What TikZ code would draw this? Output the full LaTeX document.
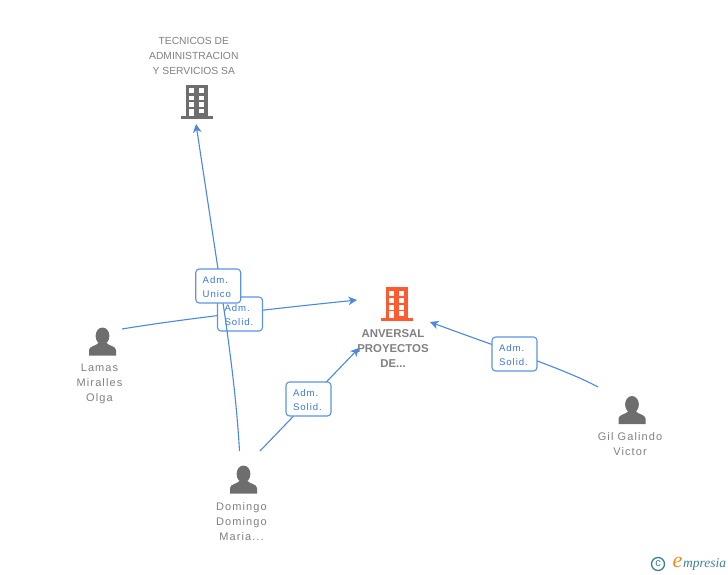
\documentclass[tikz,border=0pt]{standalone}
\usepackage{fontspec}
\setmainfont{Liberation Sans}
\newfontfamily\spaced[LetterSpace=10]{Liberation Sans}
\newfontfamily\logoserif{Liberation Serif}
\usetikzlibrary{arrows.meta}
\definecolor{linkblue}{HTML}{4A88E4}
\definecolor{boxblue}{HTML}{5A94E6}
\definecolor{labelblue}{HTML}{3A78D8}
\definecolor{icongray}{HTML}{6E6E6E}
\definecolor{textgray}{HTML}{808080}
\definecolor{iconorange}{HTML}{FF5A30}
\definecolor{logoteal}{HTML}{3F8098}
\definecolor{logoorange}{HTML}{F08A1E}
\newcommand\topfix{\rule{0pt}{9.5pt}}
\tikzset{
  x=1pt,y=-1pt,
  link/.style={draw=linkblue,line width=1.1pt},
  arrowlink/.style={link,-{Stealth[length=8.5pt,width=8.5pt,inset=2.5pt]}},
  rolebox/.style={draw=boxblue,line width=1.1pt,fill=white,rounded corners=3.5pt,
    minimum width=45pt,minimum height=34pt,inner sep=0pt,text=labelblue,align=left,text width=31pt,
    font=\spaced\fontsize{9.6}{14.5}\selectfont},
  person/.style={text=textgray,align=center,inner sep=0pt,font=\spaced\fontsize{11}{15}\selectfont},
  company/.style={text=textgray,align=center,inner sep=0pt,font=\fontsize{10.3}{15}\selectfont},
  maincompany/.style={text=textgray,align=center,inner sep=0pt,font=\bfseries\fontsize{11.4}{15}\selectfont},
  pics/building/.style={code={
    \fill[#1] (-11,-15.5) rectangle (11,15.5);
    \fill[#1] (-16,15.5) rectangle (16,18.5);
    \foreach \yy in {-12.2,-4.9,2}{
      \fill[white] (-7.3,\yy) rectangle (-2.3,\yy+4.9);
      \fill[white] (2.2,\yy) rectangle (7.2,\yy+4.9);
    }
    \fill[white] (2.2,8.4) rectangle (7.2,13);
    \fill[white] (-7.3,8.4) rectangle (-2.3,15.5);
  }},
  pics/bust/.style={code={
    \fill[icongray] (0,-5.5) ellipse (6.9 and 8.5);
    \fill[icongray] (-13.5,14) -- (-13.5,8.5) .. controls (-13.5,4.5) and (-6,4.5) .. (-3.5,1)
       -- (3.5,1) .. controls (6,4.5) and (13.5,4.5) .. (13.5,8.5) -- (13.5,14) -- cycle;
  }}
}
\begin{document}
\begin{tikzpicture}
\useasboundingbox (0,0) rectangle (728,575);
% icons
\pic at (196.5,100.5) {building=icongray};
\pic at (396.5,302.8) {building=iconorange};
\pic at (102.5,341.5) {bust};
\pic at (243.5,479.5) {bust};
\pic at (632,410) {bust};
% texts
\node[company] (tecnicos) at (193.8,56) {TECNICOS DE\\ADMINISTRACION\\Y SERVICIOS SA};
\node[maincompany] (anversal) at (393,348.5) {ANVERSAL\\PROYECTOS\\DE...};
\node[person] (lamas) at (99.5,384) {Lamas\\Miralles\\Olga};
\node[person] (domingo) at (241.5,522) {Domingo\\Domingo\\Maria...};
\node[person] (gil) at (630,444.5) {Gil Galindo\\Victor};
% connector ends
\coordinate (lamasEnd) at (122,329);
\coordinate (anvW) at (357,300);
\coordinate (domA) at (239.5,451);
\coordinate (domB) at (260,451);
\coordinate (anvS) at (359,348);
\coordinate (tecS) at (196,124);
\coordinate (gilEnd) at (598,387);
\coordinate (anvE) at (430,322);
% links, then the boxes that sit on them
\draw[arrowlink] (lamasEnd) .. controls (170,321) and (250,311) .. (anvW);
\node[rolebox] (solidB) at (240,314) {\topfix Adm.\\Solid.};
\draw[arrowlink] (domA) .. controls (236,390) and (227,329) .. (218,269) -- (tecS);
\node[rolebox] (unico) at (218.2,286) {\topfix Adm.\\Unico};
\draw[arrowlink] (domB) -- (anvS);
\node[rolebox] (solidC) at (308.5,399) {\topfix Adm.\\Solid.};
\draw[arrowlink] (gilEnd) .. controls (565,369) and (500,348) .. (anvE);
\node[rolebox] (solidD) at (514.5,354) {\topfix Adm.\\Solid.};
% logo
\node[draw=logoteal,line width=1.3pt,circle,minimum size=13pt,inner sep=0pt,text=logoteal,font=\fontsize{11}{11}\selectfont] (copyr) at (658,564) {c};
\node[inner sep=0pt,text=logoorange,font=\logoserif\itshape\fontsize{22}{22}\selectfont] (logoE) at (677.5,562.5) {e};
\node[inner sep=0pt,anchor=west,text=logoteal,font=\logoserif\itshape\fontsize{13.5}{13.5}\selectfont] (logoT) at (683,564.5) {mpresia};
\end{tikzpicture}
\end{document}
